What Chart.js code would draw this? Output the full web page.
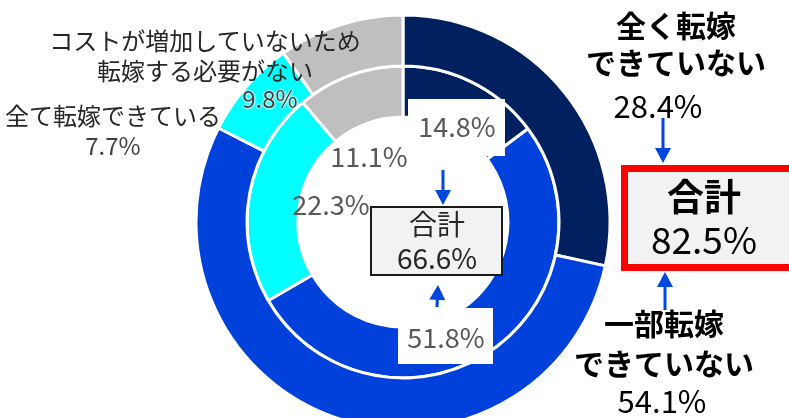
<!DOCTYPE html>
<html>
<head>
<meta charset="utf-8">
<script src="https://cdn.jsdelivr.net/npm/chart.js@4.4.0/dist/chart.umd.min.js"></script>
<style>
  html, body { margin: 0; padding: 0; background: #fff; }
  #wrap { position: relative; width: 789px; height: 418px; overflow: hidden; font-family: "Noto Sans CJK JP", "Noto Sans", sans-serif; }
  #chart { position: absolute; left: 0; top: 0; }
  #arrows { position: absolute; left: 0; top: 0; }
  .lbl { position: absolute; transform: translate(-50%, -50%); white-space: nowrap; text-align: center; line-height: 1.25; }
  .jp { font-size: 24px; color: #262626; }
  .pct { font-size: 24px; color: #404040; }
  .inner { font-size: 27px; color: #595959; }
  .tot { font-size: 28px; color: #262626; }
  .halo { text-shadow: 0 0 2px #fff, 0 0 2px #fff, 0 0 3px #fff; }
  .big { font-size: 30px; font-weight: 700; color: #000; line-height: 1.25; }
  .bigpct { font-size: 31px; color: #000; }
  .redtot { font-size: 37px; color: #000; }
  .box { position: absolute; box-sizing: border-box; }
</style>
</head>
<body>
<div id="wrap">
  <canvas id="chart" width="789" height="418"></canvas>
  <svg id="arrows" width="789" height="418"></svg>
</div>
<script>
(function () {
    'use strict';

    // 外側: 今回, 内側: 前回
    const ringLabels = ["全く転嫁できていない", "一部転嫁できていない", "全て転嫁できている", "コストが増加していないため転嫁する必要がない"];
    const outerValues = [28.4, 54.1, 7.7, 9.8];
    const innerValues = [14.8, 51.8, 22.3, 11.1];
    const ringColors = ["#002060", "#0041DC", "#00FFFF", "#BFBFBF"];

    const pct = v => v.toFixed(1) + "%";
    const outerTotal = outerValues[0] + outerValues[1];
    const innerTotal = innerValues[0] + innerValues[1];

    const ctx = document.getElementById("chart");
    new Chart(ctx, {
        type: "doughnut",
        data: {
            labels: ringLabels,
            datasets: [
                { data: outerValues, backgroundColor: ringColors, borderColor: "#fff", borderWidth: 3, clip: false },
                { data: innerValues, backgroundColor: ringColors, borderColor: "#fff", borderWidth: 3, clip: false }
            ]
        },
        options: {
            responsive: false,
            animation: false,
            radius: 207,
            cutout: "50.7%",
            layout: { padding: { left: 17, top: 26, right: 0, bottom: 0 } },
            plugins: { legend: { display: false }, tooltip: { enabled: false } }
        }
    });

    const wrap = document.getElementById("wrap");

    function box(x, y, w, h, style) {
        const d = document.createElement("div");
        d.className = "box";
        Object.assign(d.style, { left: x + "px", top: y + "px", width: w + "px", height: h + "px" }, style);
        wrap.appendChild(d);
    }

    function label(x, y, cls, html) {
        const d = document.createElement("div");
        d.className = "lbl " + cls;
        d.style.left = x + "px";
        d.style.top = y + "px";
        d.innerHTML = html;
        wrap.appendChild(d);
    }

    // 白抜きボックスと合計ボックス
    box(408, 99, 97, 57, { background: "#fff" });
    box(398, 308, 95, 56, { background: "#fff" });
    box(370, 206, 133, 70, { background: "#F2F2F2", border: "2px solid #1a1a1a" });
    box(621, 165, 175, 106, { background: "#F2F2F2", border: "7px solid #FF0000" });

    // 左側ラベル
    label(205, 40, "jp", "コストが増加していないため");
    label(205, 70, "jp", "転嫁する必要がない");
    label(270, 98, "pct halo", pct(outerValues[3]));
    label(113, 115, "jp", ringLabels[2]);
    label(113, 145, "pct", pct(outerValues[2]));

    // 内側リング
    label(457, 126, "inner", pct(innerValues[0]));
    label(369, 156, "inner", pct(innerValues[3]));
    label(331, 204, "inner", pct(innerValues[2]));
    label(446, 337, "inner", pct(innerValues[1]));
    label(437, 223, "tot", "合計");
    label(437, 257, "tot", pct(innerTotal));

    // 右側ラベル
    label(676, 25, "big", "全く転嫁");
    label(676, 62, "big", "できていない");
    label(658, 105, "bigpct", pct(outerValues[0]));
    label(704, 195, "big redtot", "合計");
    label(704, 238, "redtot", pct(outerTotal));
    label(664, 323, "big", "一部転嫁");
    label(664, 363, "big", "できていない");
    label(662, 400, "bigpct", pct(outerValues[1]));

    // 矢印
    const svg = document.getElementById("arrows");
    function arrow(x1, y1, x2, y2) {
        const ang = Math.atan2(y2 - y1, x2 - x1);
        const hl = 15, hw = 8;
        const bx = x2 - hl * Math.cos(ang), by = y2 - hl * Math.sin(ang);
        const px = -Math.sin(ang) * hw, py = Math.cos(ang) * hw;
        svg.insertAdjacentHTML("beforeend",
            `<line x1="${x1}" y1="${y1}" x2="${bx}" y2="${by}" stroke="#0047DD" stroke-width="3"/>` +
            `<polygon points="${x2},${y2} ${bx + px},${by + py} ${bx - px},${by - py}" fill="#0047DD"/>`);
    }
    arrow(443, 170, 443, 205);
    arrow(437, 307, 438, 285);
    arrow(663, 118, 663, 163);
    arrow(665, 310, 665, 272);
})();
</script>
</body>
</html>
